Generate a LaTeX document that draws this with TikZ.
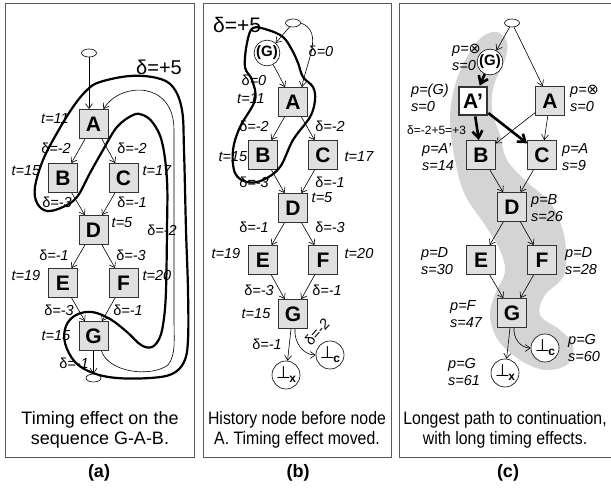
\documentclass[tikz,border=0pt]{standalone}
\usepackage{fontspec}
\setmainfont{Liberation Sans}
\newfontfamily\symf{DejaVu Sans}
\usetikzlibrary{arrows.meta,shapes.geometric}
\newcommand\dd{{\upshape δ}}
\newcommand\btm[1]{{\symf\fontsize{17}{17}\selectfont ⊥}\kern-1.5pt\raisebox{-4pt}{\fontsize{12}{12}\selectfont\bfseries #1}}
\newcommand\otm{{\symf\upshape ⊗}}
\newcommand\cond[1]{\scalebox{0.88}[1]{#1}}
\begin{document}
\begin{tikzpicture}[x=1pt,y=-1pt,
  box/.style={draw=black!80, fill=black!12, minimum size=29pt, inner sep=0pt, line width=0.8pt, font=\fontsize{21}{21}\selectfont\bfseries},
  term/.style={draw, ellipse, minimum width=15pt, minimum height=8pt, inner sep=0pt, fill=white, line width=0.6pt},
  hist/.style={draw, circle, minimum size=25pt, inner sep=0pt, fill=white, line width=0.6pt, font=\fontsize{15}{15}\selectfont\bfseries},
  circ/.style={draw, circle, minimum size=28pt, inner sep=0pt, fill=white, line width=0.6pt},
  lbl/.style={inner sep=0pt, font=\fontsize{14.5}{17}\selectfont\itshape},
  two/.style={lbl, align=left, anchor=west},
  arr/.style={-{Straight Barb[length=5pt,width=7pt]}, line width=0.6pt},
  tarr/.style={-{Straight Barb[length=7pt,width=10pt]}, line width=2.6pt},
  bigloop/.style={line width=2.2pt},
  panel/.style={draw=black!65, line width=1pt},
  captxt/.style={align=center, font=\fontsize{18}{20}\selectfont},
  sub/.style={font=\fontsize{18}{18}\selectfont\bfseries}
]
\useasboundingbox (0,0) rectangle (611,489);
% frames
\draw[panel] (5,4) rectangle (194,457);
\draw[panel] (203,4) rectangle (391,457);
\draw[panel] (615,4) -- (399,4) -- (399,457) -- (615,457);

% ================= panel (a)
\node[term] (a0) at (89,53) {};
\node[box] (aA) at (93.5,124) {A};
\node[box] (aB) at (63,178) {B};
\node[box] (aC) at (123.5,178) {C};
\node[box] (aD) at (93.5,230) {D};
\node[box] (aE) at (63,283) {E};
\node[box] (aF) at (123.5,283) {F};
\node[box] (aG) at (93.5,336) {G};
\node[term] (a1) at (93.5,378) {};
\draw[arr] (a0) -- (a0 |- aA.north);
\draw[arr] (aA) -- (aB);
\draw[arr] (aA) -- (aC);
\draw[arr] (aB) -- (aD);
\draw[arr] (aC) -- (aD);
\draw[arr] (aD) -- (aE);
\draw[arr] (aD) -- (aF);
\draw[arr] (aE) -- (aG);
\draw[arr] (aF) -- (aG);
\draw[arr] (aG) -- (a1);
\draw[arr] ([xshift=8pt]aG.south) .. controls (108,372) and (150,378) .. (168,365)
  .. controls (176,355) and (174,340) .. (174,320) -- (174,130)
  .. controls (174,80) and (120,82) .. ([xshift=-5pt]aA.north east);
\draw[bigloop] plot[smooth cycle, tension=0.6] coordinates {
 (186,230) (188,290) (188,340) (184,362) (172,374) (150,378) (117,378) (93,373)
 (75,362) (65,343) (66,326) (76,315) (92,312) (110,319) (127,332) (141,345)
 (152,347) (160,337) (164,318) (166,290) (167,230) (167,180) (162,142) (153,123)
 (143,115) (133,115) (117,127) (103,150) (90,173) (77,197) (63,207) (47,211)
 (37,203) (35,187) (43,160) (57,133) (73,107) (87,90) (100,82) (130,76)
 (157,78) (173,87) (182,110) (184,150)};
\node[lbl, font=\fontsize{20}{20}\selectfont] (aL0) at (159,67) {\dd=+5};
\node[lbl] (aL1) at (55,119) {t=11};
\node[lbl] (aL2) at (56,148) {\dd=-2};
\node[lbl] (aL3) at (132,148) {\dd=-2};
\node[lbl] (aL4) at (26,171) {t=15};
\node[lbl] (aL5) at (157,171) {t=17};
\node[lbl] (aL6) at (57,202) {\dd=-3};
\node[lbl] (aL7) at (132,202) {\dd=-1};
\node[lbl] (aL8) at (122,223) {t=5};
\node[lbl] (aL9) at (162,230) {\dd=-2};
\node[lbl] (aL10) at (54,255) {\dd=-1};
\node[lbl] (aL11) at (131,255) {\dd=-3};
\node[lbl] (aL12) at (26,276) {t=19};
\node[lbl] (aL13) at (157,276) {t=20};
\node[lbl] (aL14) at (59,310) {\dd=-3};
\node[lbl] (aL15) at (128,310) {\dd=-1};
\node[lbl] (aL16) at (56,336) {t=15};
\node[lbl] (aL17) at (74,363) {\dd=-1};
\node[captxt] (aCap) at (100,430) {Timing effect on the\\sequence G-A-B.};
\node[sub] (aSub) at (99,473) {(a)};

% ================= panel (b)
\node[term] (b0) at (293,23) {};
\node[hist] (bH) at (267,53) {(G)};
\node[box] (bA) at (293,102) {A};
\node[box] (bB) at (263,155) {B};
\node[box] (bC) at (323,155) {C};
\node[box] (bD) at (293,208) {D};
\node[box] (bE) at (263,260) {E};
\node[box] (bF) at (323,260) {F};
\node[box] (bG) at (293,314) {G};
\node[circ] (bX) at (286,375) {\btm{x}};
\node[circ] (bCc) at (330,355) {\btm{c}};
\draw[arr] (b0) -- (bH);
\draw[arr] (b0.east) to[out=-20,in=80] ([xshift=-6pt]bA.north east);
\draw[arr] (bH) -- ([xshift=7pt]bA.north west);
\draw[arr] (bA) -- (bB);
\draw[arr] (bA) -- (bC);
\draw[arr] (bB) -- (bD);
\draw[arr] (bC) -- (bD);
\draw[arr] (bD) -- (bE);
\draw[arr] (bD) -- (bF);
\draw[arr] (bE) -- (bG);
\draw[arr] (bF) -- (bG);
\draw[arr] ([xshift=-2pt]bG.south) -- (bX);
\draw[arr] ([xshift=2pt]bG.south) to[out=-95,in=180] (bCc.west);
\draw[bigloop] plot[smooth cycle, tension=0.6] coordinates {
 (247,43) (245,67) (252,80) (255,100) (240,127) (233,150) (235,173) (247,182)
 (263,180) (280,167) (293,140) (310,117) (315,100) (313,87) (303,77) (298,63)
 (292,50) (283,37) (268,30) (253,28)};
\node[lbl, font=\fontsize{21}{21}\selectfont] (bL0) at (237,25) {\dd=+5};
\node[lbl] (bL1) at (321,51) {\dd=0};
\node[lbl] (bL2) at (254,80) {\dd=0};
\node[lbl] (bL3) at (251,99) {t=11};
\node[lbl] (bL4) at (254,126) {\dd=-2};
\node[lbl] (bL5) at (330,126) {\dd=-2};
\node[lbl] (bL6) at (233,157) {t=15};
\node[lbl] (bL7) at (359,157) {t=17};
\node[lbl] (bL8) at (254,182) {\dd=-3};
\node[lbl] (bL9) at (330,182) {\dd=-1};
\node[lbl] (bL10) at (322,198) {t=5};
\node[lbl] (bL11) at (254,227) {\dd=-1};
\node[lbl] (bL12) at (330,227) {\dd=-3};
\node[lbl] (bL13) at (226,254) {t=19};
\node[lbl] (bL14) at (359,254) {t=20};
\node[lbl] (bL15) at (259,290) {\dd=-3};
\node[lbl] (bL16) at (327,290) {\dd=-1};
\node[lbl] (bL17) at (256,314) {t=15};
\node[lbl] (bL18) at (267,344) {\dd=-1};
\node[lbl, rotate=48] (bL19) at (317,332) {\dd=-2};
\node[captxt] (bCap) at (297,430) {\cond{History node before node}\\\cond{A. Timing effect moved.}};
\node[sub] (bSub) at (298,473) {(b)};

% ================= panel (c)
\fill[black!17] plot[smooth cycle, tension=0.6] coordinates {
 (497,32) (507,42) (505,60) (494,85) (492,110) (500,135) (507,160) (527,182)
 (552,205) (565,240) (564,275) (545,295) (540,315) (560,330) (573,345) (568,364)
 (545,370) (520,360) (498,340) (490,315) (496,292) (505,272) (500,250) (485,225)
 (465,195) (455,160) (450,120) (455,85) (468,55) (482,37)};
\node[term] (c0) at (512,23) {};
\node[hist] (cH) at (490,62) {(G)};
\node[box, fill=white, line width=2.8pt, minimum size=28pt] (cA1) at (473,101) {A’};
\node[box] (cA) at (550,101) {A};
\node[box] (cB) at (481,155) {B};
\node[box] (cC) at (542,155) {C};
\node[box] (cD) at (512,207) {D};
\node[box] (cE) at (481,260) {E};
\node[box] (cF) at (542,260) {F};
\node[box] (cG) at (512,313) {G};
\node[circ] (cCc) at (545,348) {\btm{c}};
\node[circ] (cX) at (505,373) {\btm{x}};
\draw[arr] (c0) -- (cH);
\draw[arr] (c0) -- (cA);
\draw[tarr] (cH) -- (cA1);
\draw[arr] (cA) -- (cB);
\draw[arr] (cA) -- (cC);
\draw[tarr] (cA1) -- (cB);
\draw[tarr] (cA1) -- (cC);
\draw[arr] (cB) -- (cD);
\draw[arr] (cC) -- (cD);
\draw[arr] (cD) -- (cE);
\draw[arr] (cD) -- (cF);
\draw[arr] (cE) -- (cG);
\draw[arr] (cF) -- (cG);
\draw[arr] ([xshift=-2pt]cG.south) -- (cX);
\draw[arr] ([xshift=2pt]cG.south) to[out=-95,in=180] (cCc.west);
\node[two] (cL1) at (452,57) {p=\otm\\s=0};
\node[two] (cL2) at (411,98) {p=(G)\\s=0};
\node[two] (cL3) at (570,98) {p=\otm\\s=0};
\node[inner sep=0pt, anchor=west, font=\fontsize{12}{12}\selectfont] (cL4) at (407,130) {δ=-2+5=+3};
\node[two] (cL5) at (422,157) {p=A’\\s=14};
\node[two] (cL6) at (562,157) {p=A\\s=9};
\node[two] (cL7) at (531,208) {p=B\\s=26};
\node[two] (cL8) at (421,261) {p=D\\s=30};
\node[two] (cL9) at (565,261) {p=D\\s=28};
\node[two] (cL10) at (450,314) {p=F\\s=47};
\node[two] (cL11) at (568,348) {p=G\\s=60};
\node[two] (cL12) at (448,372) {p=G\\s=61};
\node[captxt] (cCap) at (505,430) {\cond{Longest path to continuation,}\\\cond{with long timing effects.}};
\node[sub] (cSub) at (508,473) {(c)};
\end{tikzpicture}
\end{document}
